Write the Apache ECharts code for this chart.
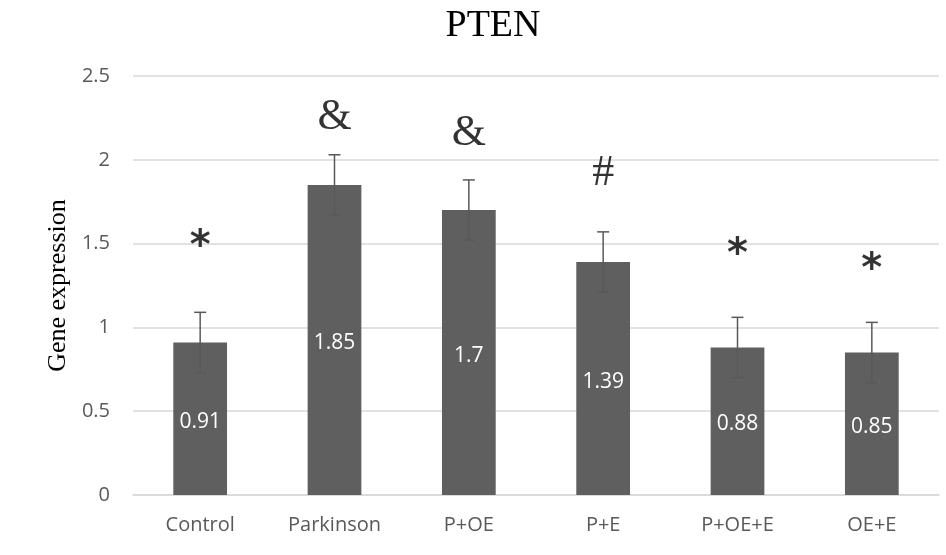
<!DOCTYPE html>
<html><head><meta charset="utf-8">
<script src="https://cdn.jsdelivr.net/npm/echarts@6/dist/echarts.min.js"></script>
<style>html,body{margin:0;padding:0;background:#fff}#c{width:946px;height:555px}</style>
</head><body><div id="c"></div>
<script>
var categories = ['Control','Parkinson','P+OE','P+E','P+OE+E','OE+E'];
var values = [0.91, 1.85, 1.7, 1.39, 0.88, 0.85];
var errors = [0.18, 0.18, 0.18, 0.18, 0.18, 0.18];
var marks = ['*','&','&','#','*','*'];
var markY = [1.52, 2.25, 2.16, 1.92, 1.47, 1.38];
var yTicks = [0, 0.5, 1, 1.5, 2, 2.5];

var chart = echarts.init(document.getElementById('c'));
chart.setOption({
  animation:false,
  title:{text:'PTEN',left:488,top:2,textAlign:'center',textStyle:{fontFamily:'Liberation Serif',fontSize:38,fontWeight:'normal',color:'#000'}},
  grid:{left:133,right:7,top:76,bottom:60},
  xAxis:{type:'category',data:categories,
    axisLine:{lineStyle:{color:'#d9d9d9',width:1.5}},axisTick:{show:false},
    axisLabel:{color:'#595959',fontSize:20,fontFamily:'Open Sans',margin:20}},
  yAxis:{type:'value',min:0,max:2.5,interval:0.5,
    name:'Gene expression',nameLocation:'middle',nameGap:62,
    nameTextStyle:{fontFamily:'Liberation Serif',fontSize:26,color:'#000'},
    axisLine:{show:false},axisTick:{show:false},
    splitLine:{lineStyle:{color:'#d9d9d9',width:1.5}},
    axisLabel:{color:'#595959',fontSize:20,fontFamily:'Open Sans',margin:23,
      formatter:function(v){return String(v);}}},
  series:[
    {type:'bar',data:values,barWidth:'40%',itemStyle:{color:'#5f5f5f'},
     label:{show:true,position:'inside',offset:[0,3],color:'#fff',fontSize:21,fontFamily:'Open Sans'}},
    {type:'custom',data:values.map(function(v,i){return [i,v-errors[i],v+errors[i]];}),
     z:5,
     renderItem:function(params,api){
       var lo=api.coord([api.value(0),api.value(1)]);
       var hi=api.coord([api.value(0),api.value(2)]);
       var x=lo[0],hw=6;
       var st={stroke:'#595959',lineWidth:1.5};
       return {type:'group',children:[
         {type:'line',shape:{x1:x,y1:lo[1],x2:x,y2:hi[1]},style:st},
         {type:'line',shape:{x1:x-hw,y1:hi[1],x2:x+hw,y2:hi[1]},style:st},
         {type:'line',shape:{x1:x-hw,y1:lo[1],x2:x+hw,y2:lo[1]},style:st}
       ]};
     }},
    {type:'scatter',data:markY.map(function(v,i){return [i,v];}),symbolSize:0,
     label:{show:true,position:'inside',
       formatter:function(p){var m=marks[p.dataIndex];return m==='*'?'{s|*}':'{r|'+m+'}';},
       rich:{
         s:{fontFamily:'DejaVu Sans',fontWeight:'bold',fontSize:40,color:'#000',padding:[14,0,0,0]},
         r:{fontFamily:'Liberation Serif',fontSize:44,color:'#000'}
       }}}
  ]
});
</script></body></html>
